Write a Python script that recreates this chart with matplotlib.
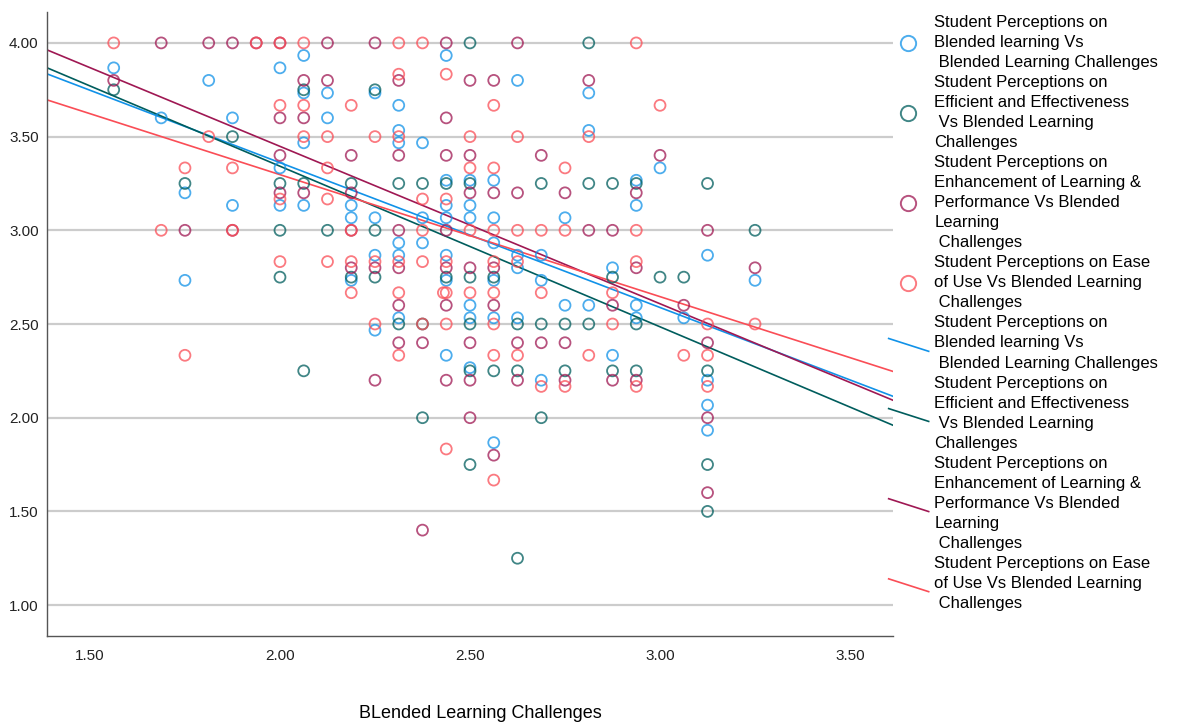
import matplotlib
matplotlib.use("Agg")
import matplotlib.pyplot as plt
from matplotlib.lines import Line2D
from matplotlib.legend_handler import HandlerBase

plt.rcParams['font.family'] = ['Liberation Sans', 'DejaVu Sans']

# x = Blended Learning Challenges score, y = perception score
blend_x = [1.5625, 1.6875, 1.75, 1.75, 1.8125, 1.875, 1.875, 2.0, 2.0, 2.0,
           2.0625, 2.0625, 2.0625, 2.0625, 2.125, 2.125, 2.1875, 2.1875, 2.1875,
           2.25, 2.25, 2.25, 2.25, 2.3125, 2.3125, 2.3125, 2.3125, 2.3125, 2.3125,
           2.375, 2.375, 2.375, 2.4375, 2.4375, 2.4375, 2.4375, 2.4375, 2.4375, 2.4375,
           2.5, 2.5, 2.5, 2.5, 2.5, 2.5, 2.5625, 2.5625, 2.5625, 2.5625, 2.5625, 2.5625,
           2.625, 2.625, 2.625, 2.625, 2.6875, 2.6875, 2.6875, 2.75, 2.75,
           2.8125, 2.8125, 2.8125, 2.875, 2.875, 2.9375, 2.9375, 2.9375, 2.9375,
           3.0, 3.0625, 3.125, 3.125, 3.125, 3.125, 3.25]
blend_y = [3.867, 3.6, 3.2, 2.733, 3.8, 3.6, 3.133, 3.867, 3.333, 3.133,
           3.933, 3.733, 3.467, 3.133, 3.733, 3.6, 3.133, 3.067, 2.733,
           3.733, 3.067, 2.867, 2.467, 3.667, 3.533, 3.467, 2.933, 2.867, 2.533,
           3.467, 3.067, 2.933, 3.933, 3.267, 3.133, 3.067, 2.867, 2.733, 2.333,
           3.267, 3.133, 3.067, 2.6, 2.533, 2.267, 3.267, 3.067, 2.933, 2.733, 2.533, 1.867,
           3.8, 2.867, 2.8, 2.533, 2.867, 2.733, 2.2, 3.067, 2.6,
           3.733, 3.533, 2.6, 2.8, 2.333, 3.267, 3.133, 2.6, 2.533,
           3.333, 2.533, 2.867, 2.2, 2.067, 1.933, 2.733]

eff_x = [1.5625, 1.75, 1.875, 2.0, 2.0, 2.0, 2.0625, 2.0625, 2.0625, 2.125,
         2.1875, 2.1875, 2.25, 2.25, 2.25, 2.3125, 2.3125, 2.375, 2.375, 2.375,
         2.4375, 2.4375, 2.5, 2.5, 2.5, 2.5, 2.5, 2.5, 2.5625, 2.5625,
         2.625, 2.625, 2.625, 2.6875, 2.6875, 2.6875, 2.75, 2.75,
         2.8125, 2.8125, 2.8125, 2.875, 2.875, 2.875, 2.9375, 2.9375, 2.9375,
         3.0, 3.0625, 3.125, 3.125, 3.125, 3.125, 3.25]
eff_y = [3.75, 3.25, 3.5, 3.25, 3.0, 2.75, 3.75, 3.25, 2.25, 3.0,
         3.25, 2.75, 3.75, 3.0, 2.75, 3.25, 2.5, 3.25, 2.5, 2.0,
         3.25, 2.75, 4.0, 3.25, 2.75, 2.5, 2.25, 1.75, 2.75, 2.25,
         2.5, 2.25, 1.25, 3.25, 2.5, 2.0, 2.5, 2.25,
         4.0, 3.25, 2.5, 3.25, 2.75, 2.25, 3.25, 2.5, 2.25,
         2.75, 2.75, 3.25, 2.25, 1.75, 1.5, 3.0]

enh_x = [1.5625, 1.6875, 1.75, 1.8125, 1.875, 1.875, 1.9375, 2.0, 2.0, 2.0, 2.0,
         2.0625, 2.0625, 2.0625, 2.125, 2.125, 2.1875, 2.1875, 2.1875, 2.1875,
         2.25, 2.25, 2.25, 2.3125, 2.3125, 2.3125, 2.3125, 2.3125, 2.3125,
         2.375, 2.375, 2.4375, 2.4375, 2.4375, 2.4375, 2.4375, 2.4375, 2.4375,
         2.5, 2.5, 2.5, 2.5, 2.5, 2.5, 2.5, 2.5625, 2.5625, 2.5625, 2.5625, 2.5625,
         2.625, 2.625, 2.625, 2.625, 2.6875, 2.6875, 2.75, 2.75, 2.75,
         2.8125, 2.8125, 2.875, 2.875, 2.875, 2.9375, 2.9375, 2.9375,
         3.0, 3.0625, 3.125, 3.125, 3.125, 3.125, 3.25]
enh_y = [3.8, 4.0, 3.0, 4.0, 4.0, 3.0, 4.0, 4.0, 3.6, 3.4, 3.2,
         3.8, 3.6, 3.2, 4.0, 3.8, 3.4, 3.2, 3.0, 2.8,
         4.0, 2.8, 2.2, 3.8, 3.4, 3.0, 2.8, 2.6, 2.4,
         2.4, 1.4, 4.0, 3.6, 3.4, 3.0, 2.8, 2.6, 2.2,
         3.8, 3.4, 3.2, 2.8, 2.4, 2.2, 2.0, 3.8, 3.2, 2.8, 2.6, 1.8,
         4.0, 3.2, 2.4, 2.2, 3.4, 2.4, 3.2, 2.4, 2.2,
         3.8, 3.0, 3.0, 2.6, 2.2, 3.2, 2.8, 2.2,
         3.4, 2.6, 3.0, 2.4, 2.0, 1.6, 2.8]

ease_x = [1.5625, 1.6875, 1.75, 1.75, 1.8125, 1.875, 1.875, 1.9375,
          2.0, 2.0, 2.0, 2.0, 2.0625, 2.0625, 2.0625, 2.125, 2.125, 2.125, 2.125,
          2.1875, 2.1875, 2.1875, 2.1875, 2.25, 2.25, 2.25,
          2.3125, 2.3125, 2.3125, 2.3125, 2.3125, 2.3125, 2.375, 2.375, 2.375, 2.375, 2.375,
          2.4375, 2.4375, 2.4375, 2.4375, 2.4375, 2.4375, 2.43,
          2.5, 2.5, 2.5, 2.5, 2.5625, 2.5625, 2.5625, 2.5625, 2.5625, 2.5625, 2.5625, 2.5625,
          2.625, 2.625, 2.625, 2.625, 2.6875, 2.6875, 2.6875, 2.75, 2.75, 2.75,
          2.8125, 2.8125, 2.875, 2.875, 2.9375, 2.9375, 2.9375, 2.9375,
          3.0, 3.0625, 3.125, 3.125, 3.125, 3.25]
ease_y = [4.0, 3.0, 3.333, 2.333, 3.5, 3.333, 3.0, 4.0,
          4.0, 3.667, 3.167, 2.833, 4.0, 3.667, 3.5, 3.5, 3.333, 3.167, 2.833,
          3.667, 3.0, 2.833, 2.667, 3.5, 2.833, 2.5,
          4.0, 3.833, 3.5, 2.833, 2.667, 2.333, 4.0, 3.167, 3.0, 2.833, 2.5,
          3.833, 3.167, 2.833, 2.667, 2.5, 1.833, 2.667,
          3.5, 3.333, 3.0, 2.667, 3.667, 3.333, 3.0, 2.833, 2.667, 2.5, 2.333, 1.667,
          3.5, 3.0, 2.833, 2.333, 3.0, 2.667, 2.167, 3.333, 3.0, 2.167,
          3.5, 2.333, 2.667, 2.5, 4.0, 3.0, 2.833, 2.167,
          3.667, 2.333, 2.5, 2.333, 2.167, 2.5]

# fit lines: intercept, slope
fit_intercept = [4.907, 5.056, 5.128, 4.599]
fit_slope = [-0.773, -0.857, -0.840, -0.651]

labels = ["Student Perceptions on\nBlended learning Vs\n Blended Learning Challenges",
          "Student Perceptions on\nEfficient and Effectiveness\n Vs Blended Learning\nChallenges",
          "Student Perceptions on\nEnhancement of Learning &\nPerformance Vs Blended\nLearning\n Challenges",
          "Student Perceptions on Ease\nof Use Vs Blended Learning\n Challenges"]
colors = ['#1192e8', '#005d5d', '#9f1853', '#fa4d56']

xs = [blend_x, eff_x, enh_x, ease_x]
ys = [blend_y, eff_y, enh_y, ease_y]

fig = plt.figure(figsize=(11.89, 7.24), dpi=100)
ax = fig.add_axes([47/1189, 1 - 636/724, (893-47)/1189, (636-12)/724])

xmin, xmax = 1.387, 3.613
ax.set_xlim(xmin, xmax)
ax.set_ylim(0.835, 4.165)

yt = [1.0, 1.5, 2.0, 2.5, 3.0, 3.5, 4.0]
for v in yt:
    ax.axhline(v, color='#cccccc', lw=1.6, zorder=0)

pts = []
for x, y, c, lab in zip(xs, ys, colors, labels):
    h = ax.scatter(x, y, s=62, facecolors='none', edgecolors=c, linewidths=1.3,
                   alpha=0.75, label=lab, zorder=3)
    pts.append(h)

lines = []
for b, m, c, lab in zip(fit_intercept, fit_slope, colors, labels):
    ln, = ax.plot([xmin, xmax], [b + m*xmin, b + m*xmax], color=c, lw=1.2,
                  label=lab, zorder=2)
    lines.append(ln)

ax.set_xticks([1.5, 2.0, 2.5, 3.0, 3.5])
ax.set_xticklabels(['1.50', '2.00', '2.50', '3.00', '3.50'])
ax.set_yticks(yt)
ax.set_yticklabels(['%.2f' % v for v in yt])
ax.tick_params(length=0, labelsize=11, colors='#222222', pad=9)
ax.tick_params(axis='y', pad=6)
for s in ['top', 'right']:
    ax.spines[s].set_visible(False)
for s in ['left', 'bottom']:
    ax.spines[s].set_color('#555555')
    ax.spines[s].set_linewidth(1.0)

fig.text(480/1189, 1 - 713/724, 'BLended Learning Challenges', ha='center',
         va='center', fontsize=13)


class MarkerHandler(HandlerBase):
    def create_artists(self, legend, orig_handle, xdescent, ydescent,
                       width, height, fontsize, trans):
        c = orig_handle.get_edgecolor()[0]
        m = Line2D([width - xdescent - 15], [height/2 - ydescent], marker='o',
                   markersize=11, markerfacecolor='none', markeredgecolor=c,
                   markeredgewidth=1.4, linestyle='none')
        m.set_transform(trans)
        return [m]


class SlopeHandler(HandlerBase):
    def create_artists(self, legend, orig_handle, xdescent, ydescent,
                       width, height, fontsize, trans):
        ln = Line2D([-xdescent - 6, width - xdescent],
                    [height*0.9 - ydescent, -height*0.2 - ydescent],
                    color=orig_handle.get_color(), lw=1.2)
        ln.set_transform(trans)
        return [ln]


hmap = {}
for p in pts:
    hmap[p] = MarkerHandler()
for l in lines:
    hmap[l] = SlopeHandler()

leg = fig.legend(pts + lines, labels + labels, loc='upper left',
                 bbox_to_anchor=(897/1189, 1 - 15/724), frameon=False,
                 fontsize=12, labelspacing=0.3, handlelength=1.9,
                 handletextpad=0.35, borderpad=0, borderaxespad=0,
                 handler_map=hmap)
for t in leg.get_texts():
    t.set_linespacing(1.42)

fig.savefig('out.png', dpi=100)
